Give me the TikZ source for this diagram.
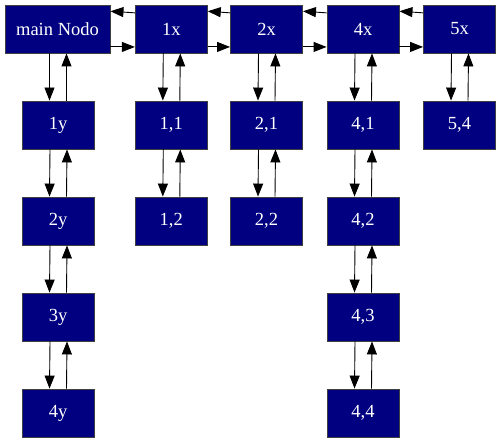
\documentclass[tikz,border=0pt]{standalone}
\usepackage{fontspec}
\setmainfont{Liberation Serif}
\usetikzlibrary{arrows.meta}
\begin{document}
\begin{tikzpicture}[x=1bp,y=-1bp,
  box/.style={draw=black!75, line width=0.9bp, fill={rgb,255:red,0;green,0;blue,128}, text=white,
    minimum width=72bp, minimum height=48bp, inner sep=0pt, font=\fontsize{18.5bp}{20bp}\selectfont},
  arr/.style={draw=black, line width=0.9bp, -{Triangle[length=13bp,width=10bp]}}]
\useasboundingbox (0,0) rectangle (501,443);
\node[box, minimum width=105bp] (m) at (57.5,29) {main Nodo};
\node[box] (x1) at (171.3,29) {1x};
\node[box] (x2) at (266.5,29) {2x};
\node[box] (x4) at (363,29) {4x};
\node[box] (x5) at (459.5,29) {5x};
\node[box] (y1) at (58,125) {1y};
\node[box] (y2) at (58,221) {2y};
\node[box] (y3) at (58,317) {3y};
\node[box] (y4) at (58,413) {4y};
\node[box] (a11) at (171.3,125) {1,1};
\node[box] (a12) at (171.3,221) {1,2};
\node[box] (a21) at (266.5,125) {2,1};
\node[box] (a22) at (266.5,221) {2,2};
\node[box] (a41) at (363,125) {4,1};
\node[box] (a42) at (363,221) {4,2};
\node[box] (a43) at (363,317) {4,3};
\node[box] (a44) at (363,413) {4,4};
\node[box] (a54) at (459.5,125) {5,4};
\foreach \a/\b in {m/x1,x1/x2,x2/x4,x4/x5}{
  \draw[arr] ([yshift=-8.3bp]\b.north west) -- ([yshift=-6.7bp]\a.north east);
  \draw[arr] ([yshift=6.5bp]\a.south east) -- ([yshift=6.5bp]\b.south west);
}
\foreach \a/\b in {m/y1,y1/y2,y2/y3,y3/y4,x1/a11,a11/a12,x2/a21,a21/a22,x4/a41,a41/a42,a42/a43,a43/a44,x5/a54}{
  \draw[arr] ([xshift=-8bp]\a.south) -- ([xshift=-8.5bp]\b.north);
  \draw[arr] ([xshift=8.5bp]\b.north) -- ([xshift=9bp]\a.south);
}
\end{tikzpicture}
\end{document}
